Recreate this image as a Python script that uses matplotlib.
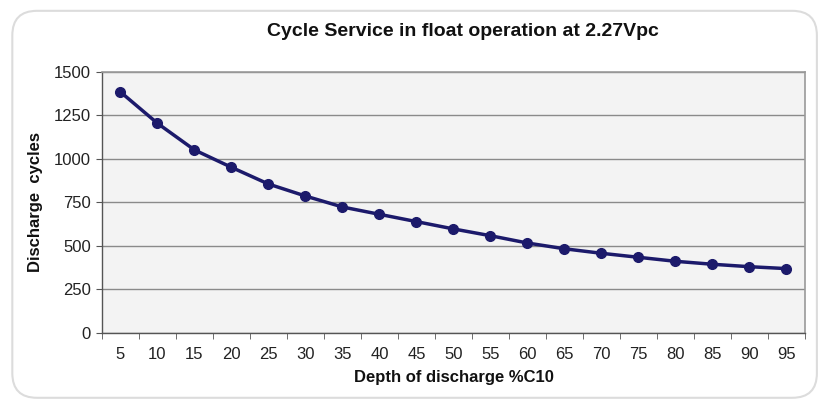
import numpy as np
import matplotlib
matplotlib.use('Agg')
import matplotlib.pyplot as plt
from matplotlib.patches import FancyBboxPatch

plt.rcParams['font.family'] = ['Liberation Sans', 'DejaVu Sans']

depth = [5, 10, 15, 20, 25, 30, 35, 40, 45, 50, 55, 60, 65, 70, 75, 80, 85, 90, 95]
cycles = [1385, 1205, 1052, 952, 856, 787, 724, 682, 640, 598, 559, 517, 484, 458, 435, 412, 395, 381, 370]
yticks = [0, 250, 500, 750, 1000, 1250, 1500]

fig = plt.figure(figsize=(8.21, 4.01), dpi=100)

# rounded outer frame (behind the axes)
frame = FancyBboxPatch((0.015, 0.008), 0.98, 0.965, boxstyle='round,pad=0,rounding_size=0.03',
                       transform=fig.transFigure, facecolor='white', edgecolor='#dcdcdc',
                       linewidth=1.5, mutation_aspect=821/401, zorder=-1)
fig.patches.append(frame)

ax = fig.add_axes([0.1242, 0.1696, 0.8563, 0.6509])
ax.set_facecolor('#f3f3f3')

x = np.arange(len(depth))
ax.plot(x, cycles, color='#1c1a6b', linewidth=2.5, marker='o', markersize=7,
        markerfacecolor='#1c1a6b', markeredgecolor='#1c1a6b', zorder=3)

ax.set_xlim(-0.5, len(depth) - 0.5)
ax.set_ylim(0, 1500)
ax.set_yticks(yticks)
ax.set_yticklabels([str(v) for v in yticks], fontsize=12, color='#222222')
ax.set_xticks(x)
ax.set_xticklabels([str(d) for d in depth], fontsize=12, color='#222222')
ax.tick_params(axis='x', which='major', length=0, pad=10)
ax.set_xticks(np.arange(-0.5, len(depth), 1), minor=True)
ax.tick_params(axis='x', which='minor', length=4, color='#555555', direction='out')
ax.tick_params(axis='y', length=4, color='#555555', pad=4)

ax.yaxis.grid(True, color='#8a8a8a', linewidth=1.0)
ax.set_axisbelow(True)

for s in ['top', 'right']:
    ax.spines[s].set_color('#9a9a9a')
    ax.spines[s].set_linewidth(1.2)
for s in ['left', 'bottom']:
    ax.spines[s].set_color('#555555')
    ax.spines[s].set_linewidth(1.0)

ax.set_title('Cycle Service in float operation at 2.27Vpc', fontsize=14, fontweight='bold',
             pad=26, x=0.514, color='#111111')
ax.set_xlabel('Depth of discharge %C10', fontsize=12, fontweight='bold', labelpad=6, color='#111111')
ax.set_ylabel('Discharge  cycles', fontsize=12, fontweight='bold', labelpad=8, color='#111111')

fig.savefig('out.png', dpi=100)
